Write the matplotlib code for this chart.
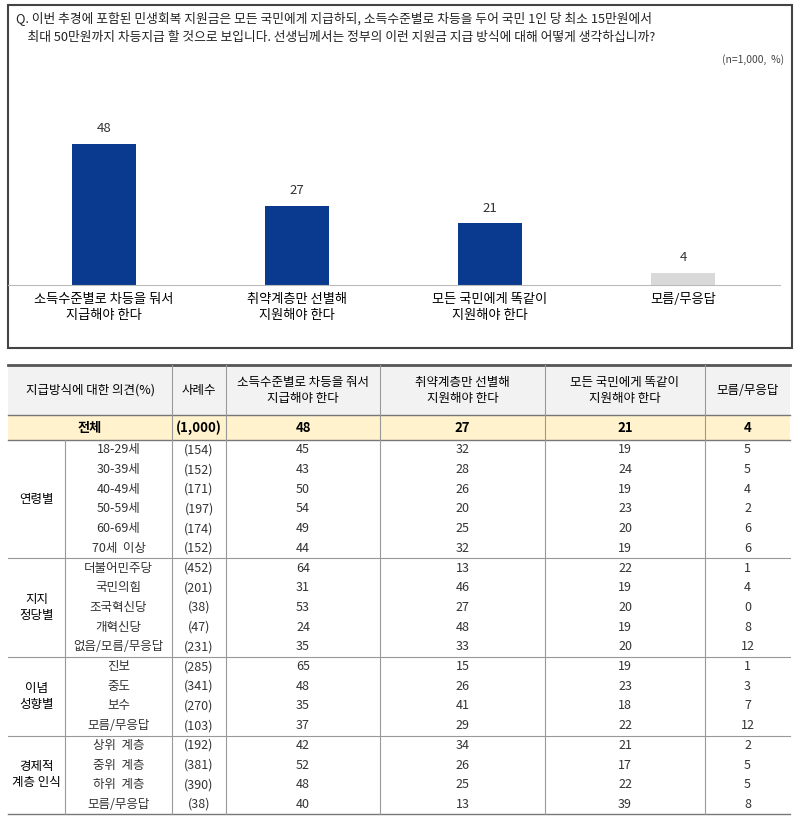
import matplotlib.pyplot as plt
from matplotlib.patches import Rectangle

plt.rcParams['font.family'] = ['Noto Sans CJK JP', 'Noto Sans CJK KR', 'Noto Sans CJK SC', 'DejaVu Sans']

W, H = 800, 817

# bar chart data
bar_labels = ['소득수준별로 차등을 둬서\n지급해야 한다', '취약계층만 선별해\n지원해야 한다',
              '모든 국민에게 똑같이\n지원해야 한다', '모름/무응답']
bar_values = [48, 27, 21, 4]
bar_colors = ['#0a3a8f', '#0a3a8f', '#0a3a8f', '#d9d9d9']

question = ('Q. 이번 추경에 포함된 민생회복 지원금은 모든 국민에게 지급하되, 소득수준별로 차등을 두어 국민 1인 당 최소 15만원에서\n'
            '    최대 50만원까지 차등지급 할 것으로 보입니다. 선생님께서는 정부의 이런 지원금 지급 방식에 대해 어떻게 생각하십니까?')

# table data
col_headers = ['지급방식에 대한 의견(%)', '사례수', '소득수준별로 차등을 줘서\n지급해야 한다',
               '취약계층만 선별해\n지원해야 한다', '모든 국민에게 똑같이\n지원해야 한다', '모름/무응답']
total_row = ['(1,000)', 48, 27, 21, 4]
groups = ['연령별', '지지\n정당별', '이념\n성향별', '경제적\n계층 인식']
group_sizes = [6, 5, 4, 4]
row_labels = ['18-29세', '30-39세', '40-49세', '50-59세', '60-69세', '70세  이상',
              '더불어민주당', '국민의힘', '조국혁신당', '개혁신당', '없음/모름/무응답',
              '진보', '중도', '보수', '모름/무응답',
              '상위  계층', '중위  계층', '하위  계층', '모름/무응답']
row_n = ['(154)', '(152)', '(171)', '(197)', '(174)', '(152)',
         '(452)', '(201)', '(38)', '(47)', '(231)',
         '(285)', '(341)', '(270)', '(103)',
         '(192)', '(381)', '(390)', '(38)']
val_diff = [45, 43, 50, 54, 49, 44, 64, 31, 53, 24, 35, 65, 48, 35, 37, 42, 52, 48, 40]
val_select = [32, 28, 26, 20, 25, 32, 13, 46, 27, 48, 33, 15, 26, 41, 29, 34, 26, 25, 13]
val_equal = [19, 24, 19, 23, 20, 19, 22, 19, 20, 19, 20, 19, 23, 18, 22, 21, 17, 22, 39]
val_dk = [5, 5, 4, 2, 6, 6, 1, 4, 0, 8, 12, 1, 3, 7, 12, 2, 5, 5, 8]

fig = plt.figure(figsize=(W / 100, H / 100), dpi=100)
bg = fig.add_axes([0, 0, 1, 1])
bg.set_xlim(0, W)
bg.set_ylim(H, 0)
bg.axis('off')

# top box
bg.add_patch(Rectangle((8, 5), 784, 343, fill=False, ec='#444444', lw=1.5))
bg.text(16, 12, question, fontsize=9.2, va='top', linespacing=1.5, color='#222222')
bg.text(784, 60, '(n=1,000,  %)', fontsize=7.5, ha='right', va='center', color='#444444')

# bar chart
ax = fig.add_axes([7.5 / W, 1 - 285 / H, 772 / W, 176 / H])
x = range(len(bar_values))
ax.bar(x, bar_values, width=0.33, color=bar_colors)
for i, v in enumerate(bar_values):
    ax.text(i, v + 3, str(v), ha='center', va='bottom', fontsize=9.5, color='#333333')
ax.set_xlim(-0.5, 3.5)
ax.set_ylim(0, 60)
ax.set_xticks(list(x), bar_labels, fontsize=9.5, linespacing=1.3)
ax.tick_params(length=0, pad=6)
ax.set_yticks([])
ax.patch.set_alpha(0)
for s in ['top', 'right', 'left']:
    ax.spines[s].set_visible(False)
ax.spines['bottom'].set_color('#bbbbbb')

# table
cols = [8, 65, 172, 226, 380, 545, 705, 790]
top, hdr_bot, tot_bot = 365, 415, 440
rh = 19.7
bot = tot_bot + rh * len(row_labels)
bg.add_patch(Rectangle((8, top), 782, hdr_bot - top, color='#f2f2f2', lw=0))
bg.add_patch(Rectangle((8, hdr_bot), 782, tot_bot - hdr_bot, color='#fff2cc', lw=0))
bg.plot([8, 790], [top, top], color='#555555', lw=2)
bg.plot([8, 790], [hdr_bot, hdr_bot], color='#777777', lw=1)
bg.plot([8, 790], [tot_bot, tot_bot], color='#777777', lw=1)
bg.plot([8, 790], [bot, bot], color='#777777', lw=1)
for cx in cols[2:-1]:
    bg.plot([cx, cx], [top, bot], color='#999999', lw=0.8)
bg.plot([cols[1], cols[1]], [tot_bot, bot], color='#999999', lw=0.8)

hmid = (top + hdr_bot) / 2
bg.text((cols[0] + cols[2]) / 2, hmid, col_headers[0], ha='center', va='center', fontsize=9)
for j in range(1, 6):
    bg.text((cols[j + 1] + cols[j + 2]) / 2, hmid, col_headers[j], ha='center', va='center',
            fontsize=9, linespacing=1.3)

tmid = (hdr_bot + tot_bot) / 2
bg.text((cols[0] + cols[2]) / 2, tmid, '전체', ha='center', va='center', fontsize=9.5, weight='bold')
for j, v in enumerate(total_row):
    bg.text((cols[j + 2] + cols[j + 3]) / 2, tmid, str(v), ha='center', va='center',
            fontsize=9.5, weight='bold')

y0 = tot_bot
for g, n in zip(groups, group_sizes):
    y1 = y0 + n * rh
    bg.text((cols[0] + cols[1]) / 2, (y0 + y1) / 2, g, ha='center', va='center', fontsize=9, linespacing=1.3)
    if y1 < bot:
        bg.plot([8, 790], [y1, y1], color='#999999', lw=0.8)
    y0 = y1

for i in range(len(row_labels)):
    cy = tot_bot + rh * (i + 0.5)
    cells = [row_labels[i], row_n[i], val_diff[i], val_select[i], val_equal[i], val_dk[i]]
    for j, c in enumerate(cells):
        bg.text((cols[j + 1] + cols[j + 2]) / 2, cy, str(c), ha='center', va='center',
                fontsize=9, color='#333333')

fig.savefig('out.png', dpi=100)
